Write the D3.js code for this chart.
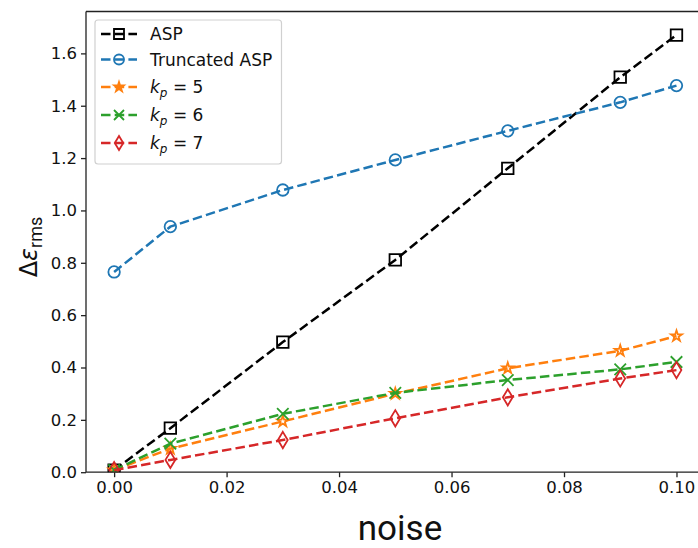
<!DOCTYPE html>
<html>
<head>
<meta charset="utf-8">
<script src="https://cdn.jsdelivr.net/npm/d3@7"></script>
<style>
  html, body { margin: 0; padding: 0; background: #fff; }
  svg { display: block; }
  .tick text { font-family: "DejaVu Sans", sans-serif; font-size: 16.5px; fill: #111; }
</style>
</head>
<body>
<svg id="chart" width="698" height="548"></svg>
<script>
// Noise levels on the x axis
const noise = [0, 0.01, 0.03, 0.05, 0.07, 0.09, 0.10];

// RMS strain error for each method
const asp       = [0.008, 0.168, 0.497, 0.811, 1.161, 1.509, 1.670];
const truncated = [0.765, 0.938, 1.078, 1.193, 1.304, 1.413, 1.477];
const kp5       = [0.008, 0.090, 0.194, 0.300, 0.397, 0.464, 0.520];
const kp6       = [0.008, 0.109, 0.223, 0.303, 0.352, 0.393, 0.421];
const kp7       = [0.008, 0.047, 0.123, 0.206, 0.286, 0.358, 0.390];

const xTicks = [0, 0.02, 0.04, 0.06, 0.08, 0.10];
const yTicks = [0, 0.2, 0.4, 0.6, 0.8, 1.0, 1.2, 1.4, 1.6];

const series = [
  { name: "ASP",           values: asp,       color: "#000000", marker: "square" },
  { name: "Truncated ASP", values: truncated, color: "#1f77b4", marker: "circle" },
  { name: "kp5", k: "5",   values: kp5,       color: "#ff7f0e", marker: "star" },
  { name: "kp6", k: "6",   values: kp6,       color: "#2ca02c", marker: "x" },
  { name: "kp7", k: "7",   values: kp7,       color: "#d62728", marker: "thin_diamond" }
];

const svg = d3.select("#chart");
const plotL = 86, plotT = 11.5, plotR = 704.6, plotB = 472.2;

const x = d3.scaleLinear().domain([-0.005, 0.105]).range([plotL, plotR]);
const y = d3.scaleLinear().domain([0, 1.76]).range([plotB, plotT]);

const LW = 2.5, DASH = "9.5,4.2", MEW = 1.8;

// Marker shapes, sized in pixels
function markerPath(kind, M) {
  const h = M / 2;
  switch (kind) {
    case "square": return `M${-h},${-h}H${h}V${h}H${-h}Z`;
    case "circle": return d3.symbol(d3.symbolCircle, Math.PI * h * h)();
    case "star": {
      const pts = [];
      const rIn = h * 0.381966;
      for (let i = 0; i < 10; i++) {
        const r = i % 2 === 0 ? h : rIn;
        const a = -Math.PI / 2 + i * Math.PI / 5;
        pts.push([r * Math.cos(a), r * Math.sin(a)]);
      }
      return "M" + pts.map(p => p.join(",")).join("L") + "Z";
    }
    case "x": return `M${-h},${-h}L${h},${h}M${-h},${h}L${h},${-h}`;
    case "thin_diamond": {
      const dy = h * Math.SQRT2, dx = dy * 0.6;
      return `M0,${-dy}L${dx},0L0,${dy}L${-dx},0Z`;
    }
  }
}

// Axes: ticks and labels
const xAxis = d3.axisBottom(x).tickValues(xTicks).tickFormat(d3.format(".2f")).tickSize(5).tickPadding(4);
const yAxis = d3.axisLeft(y).tickValues(yTicks).tickFormat(d3.format(".1f")).tickSize(5).tickPadding(4);

const gx = svg.append("g").attr("transform", `translate(0,${plotB})`).call(xAxis);
const gy = svg.append("g").attr("transform", `translate(${plotL},0)`).call(yAxis);
[gx, gy].forEach(g => {
  g.select(".domain").remove();
  g.selectAll(".tick line").attr("stroke", "#222").attr("stroke-width", 1.3);
  g.selectAll(".tick text").attr("font-family", null).attr("font-size", null);
});

// Clip data marks to the plot area
svg.append("clipPath").attr("id", "plotclip")
  .append("rect").attr("x", plotL).attr("y", plotT).attr("width", plotR - plotL).attr("height", plotB - plotT);

const plot = svg.append("g").attr("clip-path", "url(#plotclip)");
const line = d3.line().x((d, i) => x(noise[i])).y(d => y(d));

series.forEach(s => {
  plot.append("path")
    .attr("d", line(s.values))
    .attr("fill", "none")
    .attr("stroke", s.color)
    .attr("stroke-width", LW)
    .attr("stroke-dasharray", DASH);
  plot.selectAll(null).data(s.values).enter().append("path")
    .attr("transform", (d, i) => `translate(${x(noise[i])},${y(d)})`)
    .attr("d", markerPath(s.marker, 11.5))
    .attr("fill", "none")
    .attr("stroke", s.color)
    .attr("stroke-width", MEW);
});

// Spines
svg.append("path")
  .attr("d", `M${plotL},${plotT}V${plotB}H${plotR}M${plotL},${plotT}H${plotR}`)
  .attr("fill", "none").attr("stroke", "#222").attr("stroke-width", 1.3);

// Axis titles
svg.append("text")
  .attr("x", 400).attr("y", 540)
  .attr("text-anchor", "middle")
  .attr("font-family", "Roboto, sans-serif").attr("font-size", 35)
  .attr("fill", "#111")
  .text("noise");

const yl = svg.append("text")
  .attr("transform", "translate(37,247) rotate(-90)")
  .attr("text-anchor", "middle")
  .attr("fill", "#111")
  .attr("font-family", "DejaVu Sans, sans-serif").attr("font-size", 24);
yl.append("tspan").text("Δ");
yl.append("tspan").attr("font-style", "italic").text("ε");
yl.append("tspan").attr("font-family", "Roboto, sans-serif").attr("font-size", 18).attr("dy", 5).text("rms");

// Legend
const lg = svg.append("g");
lg.append("rect")
  .attr("x", 95).attr("y", 20).attr("width", 186.5).attr("height", 144)
  .attr("rx", 3).attr("fill", "#fff").attr("fill-opacity", 0.8)
  .attr("stroke", "#d0d0d0").attr("stroke-width", 1.2);
const rowY = [34, 59.5, 87, 115, 143];
series.forEach((s, i) => {
  const g = lg.append("g").attr("transform", `translate(0,${rowY[i]})`);
  g.append("path").attr("d", "M101,0H137")
    .attr("stroke", s.color).attr("stroke-width", LW).attr("stroke-dasharray", DASH);
  g.append("path").attr("transform", "translate(119,0)").attr("d", markerPath(s.marker, 10))
    .attr("fill", s.marker === "star" ? s.color : "none").attr("stroke", s.color).attr("stroke-width", MEW);
  const t = g.append("text").attr("x", 150).attr("y", 6)
    .attr("fill", "#111")
    .attr("font-family", "DejaVu Sans, sans-serif").attr("font-size", 17);
  if (s.k) {
    t.append("tspan").attr("font-style", "italic").text("k");
    t.append("tspan").attr("font-style", "italic").attr("font-size", 12).attr("dy", 4).text("p");
    t.append("tspan").attr("dy", -4).text(" = " + s.k);
  } else {
    t.text(s.name);
  }
});
</script>
</body>
</html>
